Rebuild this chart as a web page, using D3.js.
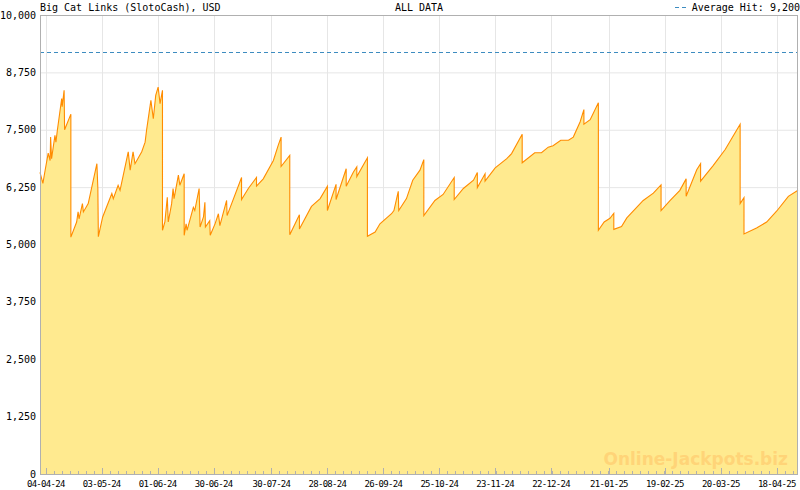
<!DOCTYPE html>
<html>
<head>
  <title>Big Cat Links (SlotoCash)</title>
  <script src="https://d3js.org/d3.v7.min.js"></script>
  <style>
    body { margin: 0; background: #fff; }
    text { font-family: "DejaVu Sans Mono", monospace; }
  </style>
</head>
<body>
  <svg id="chart"></svg>

  <script>
    // chart texts
    const titleText = "Big Cat Links (SlotoCash), USD";
    const subTitle = "ALL DATA";
    const watermark = "Online-Jackpots.biz";
    const averageHit = 9200;

    // axis ticks
    const yTicks = [0, 1250, 2500, 3750, 5000, 6250, 7500, 8750, 10000];
    const xTickLabels = ["04-04-24", "03-05-24", "01-06-24", "30-06-24", "30-07-24", "28-08-24", "26-09-24",
                         "25-10-24", "23-11-24", "22-12-24", "21-01-25", "19-02-25", "20-03-25", "18-04-25"];

    // jackpot series
    const dates = [
      "2024-04-01 00", "2024-04-02 12", "2024-04-03 12", "2024-04-05 06", "2024-04-06 06", "2024-04-06 12",
      "2024-04-07 00", "2024-04-08 18", "2024-04-09 06", "2024-04-10 00", "2024-04-12 06", "2024-04-12 12",
      "2024-04-13 12", "2024-04-13 18", "2024-04-17 00", "2024-04-17 00", "2024-04-20 00", "2024-04-20 18",
      "2024-04-21 06", "2024-04-23 00", "2024-04-23 12", "2024-04-26 00", "2024-04-30 12", "2024-05-01 00",
      "2024-05-01 06", "2024-05-03 12", "2024-05-08 06", "2024-05-09 00", "2024-05-11 12", "2024-05-12 12",
      "2024-05-16 18", "2024-05-17 18", "2024-05-19 06", "2024-05-20 06", "2024-05-23 18", "2024-05-25 12",
      "2024-05-26 06", "2024-05-27 12", "2024-05-28 12", "2024-05-29 18", "2024-05-31 00", "2024-06-01 06",
      "2024-06-02 06", "2024-06-03 12", "2024-06-03 12", "2024-06-04 18", "2024-06-06 00", "2024-06-06 12",
      "2024-06-08 06", "2024-06-09 00", "2024-06-09 12", "2024-06-11 18", "2024-06-12 12", "2024-06-14 18",
      "2024-06-14 18", "2024-06-15 18", "2024-06-16 06", "2024-06-19 12", "2024-06-20 06", "2024-06-22 12",
      "2024-06-23 00", "2024-06-24 18", "2024-06-25 12", "2024-06-25 18", "2024-06-28 00", "2024-06-28 06",
      "2024-06-30 18", "2024-07-02 12", "2024-07-03 06", "2024-07-06 18", "2024-07-07 00", "2024-07-14 12",
      "2024-07-14 12", "2024-07-18 00", "2024-07-22 06", "2024-07-22 06", "2024-07-25 18", "2024-07-31 00",
      "2024-08-02 12", "2024-08-04 00", "2024-08-04 00", "2024-08-08 12", "2024-08-08 12", "2024-08-13 12",
      "2024-08-13 12", "2024-08-19 18", "2024-08-24 06", "2024-08-28 00", "2024-08-28 00", "2024-09-01 12",
      "2024-09-01 12", "2024-09-06 18", "2024-09-06 18", "2024-09-10 12", "2024-09-12 06", "2024-09-12 06",
      "2024-09-17 18", "2024-09-17 18", "2024-09-21 18", "2024-09-24 06", "2024-09-30 06", "2024-10-01 12",
      "2024-10-03 18", "2024-10-04 00", "2024-10-08 00", "2024-10-11 06", "2024-10-15 00", "2024-10-17 00",
      "2024-10-17 00", "2024-10-22 18", "2024-10-27 00", "2024-11-01 18", "2024-11-01 18", "2024-11-06 12",
      "2024-11-11 18", "2024-11-13 18", "2024-11-13 18", "2024-11-17 18", "2024-11-17 18", "2024-11-23 00",
      "2024-11-29 00", "2024-12-01 12", "2024-12-07 00", "2024-12-07 00", "2024-12-13 12", "2024-12-17 00",
      "2024-12-20 12", "2024-12-23 00", "2024-12-27 00", "2024-12-31 00", "2025-01-02 12", "2025-01-06 00",
      "2025-01-08 00", "2025-01-08 00", "2025-01-11 06", "2025-01-15 12", "2025-01-15 12", "2025-01-18 12",
      "2025-01-21 12", "2025-01-23 12", "2025-01-23 12", "2025-01-27 12", "2025-01-30 06", "2025-02-07 18",
      "2025-02-13 00", "2025-02-17 00", "2025-02-17 00", "2025-02-21 12", "2025-02-26 18", "2025-03-02 00",
      "2025-03-02 00", "2025-03-07 12", "2025-03-09 12", "2025-03-09 12", "2025-03-16 00", "2025-03-22 06",
      "2025-03-30 00", "2025-03-30 00", "2025-04-01 00", "2025-04-01 00", "2025-04-07 12", "2025-04-12 18",
      "2025-04-18 00", "2025-04-24 00", "2025-04-29 00"
    ];
    const values = [
      6570, 6330, 6580, 6990, 6830, 7340,
      6870, 7380, 7230, 7490, 8180, 8000,
      8360, 7500, 7840, 5160, 5490, 5710,
      5560, 5890, 5710, 5890, 6760, 6220,
      5170, 5600, 6110, 6000, 6290, 6180,
      7020, 6620, 7020, 6760, 7020, 7230,
      7490, 7850, 8140, 7740, 8250, 8430,
      8070, 8360, 5310, 5490, 6030, 5490,
      5890, 6220, 6000, 6510, 6290, 6540,
      5200, 5450, 5310, 5810, 5740, 6220,
      5380, 5600, 5920, 5380, 5520, 5200,
      5450, 5670, 5410, 5960, 5630, 6460,
      5980, 6220, 6460, 6270, 6430, 6830,
      7160, 7340, 6700, 6940, 5210, 5650,
      5340, 5830, 6000, 6270, 5740, 6310,
      5980, 6650, 6270, 6580, 6690, 6480,
      6890, 5180, 5270, 5450, 5670, 5740,
      6160, 5740, 6000, 6400, 6620, 6850,
      5630, 5960, 6090, 6460, 5980, 6220,
      6400, 6570, 6240, 6540, 6380, 6670,
      6870, 6980, 7400, 6780, 7000, 7000,
      7120, 7150, 7270, 7270, 7340, 7670,
      7940, 7620, 7720, 8090, 5310, 5490,
      5570, 5680, 5330, 5390, 5580, 5960,
      6120, 6300, 5740, 5950, 6180, 6430,
      6050, 6630, 6760, 6380, 6720, 7070,
      7620, 5890, 6020, 5230, 5360, 5490,
      5730, 6050, 6180
    ];

    const width = 800, height = 490;
    const margin = { top: 15, right: 2, bottom: 16, left: 40 };
    const plotW = width - margin.left - margin.right;
    const plotH = height - margin.top - margin.bottom;

    const parseDate = d3.timeParse("%Y-%m-%d %H");
    const parseTick = d3.timeParse("%d-%m-%y");
    const data = dates.map((d, i) => ({ date: parseDate(d), value: values[i] }));
    const tickDates = xTickLabels.map(parseTick);

    const x = d3.scaleTime()
                .domain(d3.extent(data, d => d.date))
                .range([0, plotW]);
    const y = d3.scaleLinear()
                .domain([0, 10000])
                .range([plotH, 0]);

    const svg = d3.select("#chart")
                  .attr("width", width)
                  .attr("height", height);

    const g = svg.append("g")
                 .attr("transform", `translate(${margin.left},${margin.top})`);

    // grid
    g.selectAll(".hgrid")
     .data(yTicks.slice(1, -1))
     .enter().append("line")
     .attr("x1", 0).attr("x2", plotW)
     .attr("y1", d => y(d) + 0.5).attr("y2", d => y(d) + 0.5)
     .attr("stroke", "#e6e6e6");

    g.selectAll(".vgrid")
     .data(tickDates)
     .enter().append("line")
     .attr("x1", d => Math.round(x(d)) + 0.5).attr("x2", d => Math.round(x(d)) + 0.5)
     .attr("y1", 0).attr("y2", plotH)
     .attr("stroke", "#e6e6e6");

    // area + line
    g.append("path")
     .datum(data)
     .attr("fill", "#ffea8f")
     .attr("d", d3.area().x(d => x(d.date)).y0(plotH).y1(d => y(d.value)));

    g.append("path")
     .datum(data)
     .attr("fill", "none")
     .attr("stroke", "#ff8c00")
     .attr("stroke-width", 1.1)
     .attr("d", d3.line().x(d => x(d.date)).y(d => y(d.value)));

    // average hit line
    g.append("line")
     .attr("x1", 0).attr("x2", plotW)
     .attr("y1", Math.round(y(averageHit)) + 0.5).attr("y2", Math.round(y(averageHit)) + 0.5)
     .attr("stroke", "#3d8cc0")
     .attr("stroke-dasharray", "4,3");

    // watermark
    g.append("text")
     .attr("x", plotW - 10)
     .attr("y", plotH - 9)
     .attr("text-anchor", "end")
     .style("font-family", "'DejaVu Sans', Verdana, sans-serif")
     .style("font-weight", "bold")
     .style("font-size", "17px")
     .attr("fill", "#ffd478")
     .text(watermark);

    // x ticks: majors at labels, 6 minors between
    const step = (tickDates[tickDates.length - 1] - tickDates[0]) / (tickDates.length - 1) / 7;
    const minorTicks = [];
    for (let t = +tickDates[0] - 7 * step; t <= +x.domain()[1]; t += step) {
      if (t >= +x.domain()[0]) minorTicks.push(new Date(t));
    }
    g.selectAll(".minor")
     .data(minorTicks)
     .enter().append("line")
     .attr("x1", d => Math.round(x(d)) + 0.5).attr("x2", d => Math.round(x(d)) + 0.5)
     .attr("y1", plotH - 3).attr("y2", plotH)
     .attr("stroke", "#b0b0b0");

    g.selectAll(".major")
     .data(tickDates)
     .enter().append("line")
     .attr("x1", d => Math.round(x(d)) + 0.5).attr("x2", d => Math.round(x(d)) + 0.5)
     .attr("y1", plotH - 6).attr("y2", plotH)
     .attr("stroke", "#b0b0b0");

    g.selectAll(".x-label")
     .data(tickDates)
     .enter().append("text")
     .attr("x", d => x(d))
     .attr("y", plotH + 13)
     .attr("text-anchor", "middle")
     .style("font-size", "9px")
     .style("letter-spacing", "-0.7px")
     .text((d, i) => xTickLabels[i]);

    // y labels
    g.selectAll(".y-label")
     .data(yTicks)
     .enter().append("text")
     .attr("x", -4)
     .attr("y", d => y(d))
     .attr("dy", "0.35em")
     .attr("text-anchor", "end")
     .style("font-size", "10px")
     .text(d => d3.format(",")(d));

    // frame
    g.append("rect")
     .attr("x", 0.5).attr("y", 0.5)
     .attr("width", plotW - 1).attr("height", plotH)
     .attr("fill", "none")
     .attr("stroke", "#b0b0b0");

    // header texts
    svg.append("text")
       .attr("x", margin.left)
       .attr("y", 11)
       .style("font-size", "10px")
       .text(titleText);

    svg.append("text")
       .attr("x", margin.left + plotW / 2)
       .attr("y", 11)
       .attr("text-anchor", "middle")
       .style("font-size", "10px")
       .text(subTitle);

    svg.append("text")
       .attr("x", width)
       .attr("y", 11)
       .attr("text-anchor", "end")
       .style("font-size", "10px")
       .text("Average Hit: " + d3.format(",")(averageHit));

    svg.append("line")
       .attr("x1", 675).attr("x2", 689)
       .attr("y1", 7.5).attr("y2", 7.5)
       .attr("stroke", "#3d8cc0")
       .attr("stroke-dasharray", "4,3");
  </script>
</body>
</html>
